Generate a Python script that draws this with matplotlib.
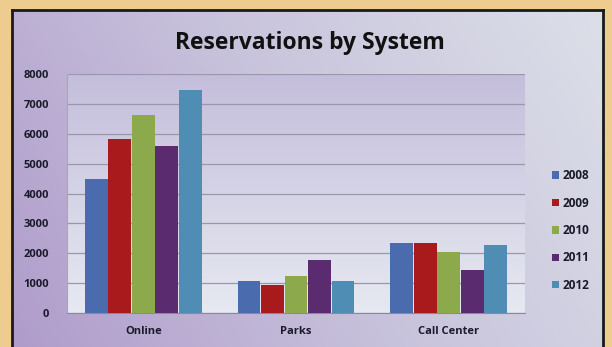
import matplotlib
matplotlib.use("Agg")
import matplotlib.pyplot as plt
import numpy as np
from matplotlib.colors import LinearSegmentedColormap

plt.rcParams['font.family'] = ['Open Sans', 'DejaVu Sans']

categories = ['Online', 'Parks', 'Call Center']
years = ['2008', '2009', '2010', '2011', '2012']
values = {
    '2008': [4480, 1080, 2340],
    '2009': [5820, 940, 2340],
    '2010': [6620, 1240, 2040],
    '2011': [5590, 1770, 1440],
    '2012': [7460, 1070, 2270],
}
colors = ['#4a6cae', '#a81a1c', '#8ca94c', '#5a2b6e', '#4f8db5']
yticks = [0, 1000, 2000, 3000, 4000, 5000, 6000, 7000, 8000]

W, H = 612, 347
fig = plt.figure(figsize=(W / 100, H / 100), dpi=100)
fig.patch.set_facecolor('#eecb8f')

# chart area with purple-to-light gradient
bg = fig.add_axes([12 / W, 0, (603 - 12) / W, (H - 10) / H])
gx = np.linspace(0, 1, 200)
gy = np.linspace(0, 1, 100)
GX, GY = np.meshgrid(gx, gy)
grad = np.clip(0.75 * GX + 0.25 * (1 - GY), 0, 1)
cmap = LinearSegmentedColormap.from_list('bg', ['#b09ccb', '#c8c3dc', '#dcdfe8'])
bg.imshow(grad, cmap=cmap, aspect='auto', extent=[0, 1, 0, 1], origin='upper')
bg.set_xticks([])
bg.set_yticks([])
for s in bg.spines.values():
    s.set_color('#1a1a1a')
    s.set_linewidth(2)
bg.spines['bottom'].set_visible(False)

# plot area
ax = fig.add_axes([67 / W, (H - 313) / H, (525 - 67) / W, (313 - 74) / H])
pcmap = LinearSegmentedColormap.from_list('pa', ['#c4bedc', '#e6e9f1'])
pgrad = np.linspace(0, 1, 100).reshape(-1, 1)
ax.imshow(pgrad, cmap=pcmap, aspect='auto', extent=[-0.5, 2.5, 0, 8000],
          origin='upper', zorder=0)

x = np.arange(len(categories))
n = len(years)
bw = 0.77 / n
for i, (yr, c) in enumerate(zip(years, colors)):
    ax.bar(x + (i - (n - 1) / 2) * bw, values[yr], width=bw * 0.97,
           color=c, label=yr, zorder=3)

ax.set_xlim(-0.5, 2.5)
ax.set_ylim(0, 8000)
ax.set_yticks(yticks)
ax.set_yticklabels([str(t) for t in yticks], fontsize=8, fontweight='bold',
                   color='#1a1a2a')
ax.set_xticks(x)
ax.set_xticklabels(categories, fontsize=8, fontweight='bold', color='#1a1a2a')
ax.tick_params(axis='both', length=0)
ax.tick_params(axis='y', pad=13)
ax.tick_params(axis='x', pad=9)
ax.grid(axis='y', color='#9a98a8', linewidth=0.9, zorder=1)
for s in ['top', 'right']:
    ax.spines[s].set_visible(False)
ax.spines['left'].set_color('#a8a6b8')
ax.spines['bottom'].set_color('#8a889a')

fig.text(310 / W, 1 - 43 / H, 'Reservations by System', ha='center', va='center',
         fontsize=16.5, fontweight='bold', color='#111111')

leg = ax.legend(loc='center left', bbox_to_anchor=(1.035, 0.345), frameon=False,
                handlelength=0.6, handleheight=0.6, handletextpad=0.3,
                labelspacing=1.22, prop={'size': 8.5, 'weight': 'bold'})
for t in leg.get_texts():
    t.set_color('#1a1a2a')

fig.savefig('out.png', dpi=100, facecolor=fig.get_facecolor())
